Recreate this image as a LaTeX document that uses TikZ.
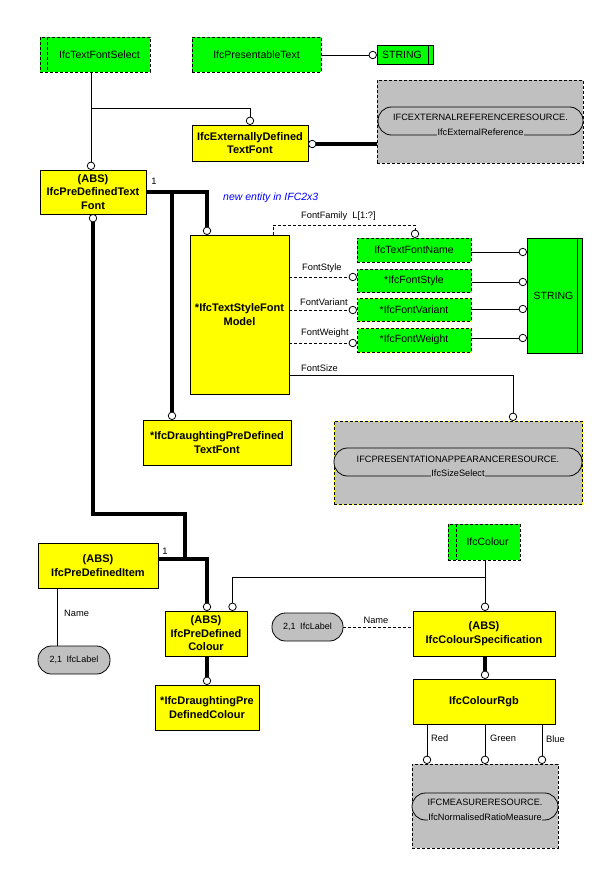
\documentclass[tikz,border=0pt]{standalone}
\usepackage{fontspec}
\setmainfont{Liberation Sans}
\usetikzlibrary{calc}
\pgfdeclarelayer{bg}
\pgfsetlayers{bg,main}
\definecolor{ifcgreen}{RGB}{0,255,0}
\definecolor{ifcyellow}{RGB}{255,255,0}
\definecolor{ifcgray}{RGB}{192,192,192}
\definecolor{ifcblue}{RGB}{0,0,255}
\begin{document}
\begin{tikzpicture}[x=1pt,y=-1pt,
  ent/.style={draw, line width=0.8pt, fill=ifcyellow, inner sep=0pt, align=center,
    font=\fontsize{11}{13.5}\selectfont\bfseries},
  typbase/.style={fill=ifcgreen, inner sep=0pt, align=center, font=\fontsize{10.5}{12}\selectfont},
  typd/.style={typbase, draw, line width=0.8pt, dash pattern=on 3pt off 2pt},
  typs/.style={typbase, draw, line width=0.8pt},
  typy/.style={typbase, draw=ifcyellow, line width=0.8pt,
    postaction={draw=black, line width=0.8pt, dash pattern=on 3pt off 2pt}},
  typg/.style={typbase, draw=ifcgray, line width=0.8pt,
    postaction={draw=black, line width=0.8pt, dash pattern=on 3pt off 2pt}},
  circ/.style={circle, draw, fill=white, line width=0.8pt, minimum size=7.5pt, inner sep=0pt},
  cn/.style={line width=0.8pt},
  thk/.style={line width=3.6pt},
  dsh/.style={line width=0.8pt, dash pattern=on 3pt off 2pt},
  lbl/.style={font=\fontsize{9.3}{10}\selectfont, inner sep=0pt},
  grybox/.style={draw, fill=ifcgray, line width=0.8pt, dash pattern=on 3pt off 2pt},
  grybxy/.style={draw=ifcyellow, fill=ifcgray, line width=0.8pt,
    postaction={draw=black, line width=0.8pt, dash pattern=on 3pt off 2pt}},
  pill/.style={draw, fill=ifcgray, line width=0.8pt, rounded corners=13.5pt, inner sep=0pt},
  pillt/.style={pill, font=\fontsize{9}{10}\selectfont},
  gtxt/.style={font=\fontsize{9.2}{10}\selectfont, inner sep=0.6pt},
]
\begin{pgfonlayer}{bg}
\fill[white] (0,0) rectangle (600,888);
\end{pgfonlayer}
\useasboundingbox (0,0) rectangle (600,888);

% ---- top row
\node[typd, minimum width=110, minimum height=35] (tfs) at (95,54.5) {\hspace*{9pt}IfcTextFontSelect};
\draw[dsh] ($(tfs.north west)+(8,0)$) -- ($(tfs.south west)+(8,0)$);
\node[typd, minimum width=129, minimum height=35] (pt) at (256.5,54.5) {IfcPresentableText};
\node[typs, minimum width=56, minimum height=19] (str1) at (405,54.5) {STRING\hspace*{6pt}};
\draw[cn] ($(str1.north east)+(-5,0)$) -- ($(str1.south east)+(-5,0)$);
\node[circ] (c0) at (372.75,55) {};

% ---- external reference
\node[grybox, minimum width=206, minimum height=83] (ext) at (480,121.5) {};
\node[pill, minimum width=205, minimum height=28] (extp) at (480.5,121) {};
\node[gtxt, anchor=base] (ext1) at (480.5,120.3) {IFCEXTERNALREFERENCERESOURCE.};
\node[gtxt, anchor=base, fill=ifcgray] (ext2) at (480.5,135.5) {IfcExternalReference};

\node[ent, minimum width=116, minimum height=36] (edtf) at (250,143) {IfcExternallyDefined\\TextFont};
\node[circ] (cE1) at (250,120.8) {};
\node[circ] (cE2) at (312.2,144) {};

% ---- predefined text font
\node[ent, minimum width=106, minimum height=44] (pdtf) at (93,192) {(ABS)\\IfcPreDefinedText\\Font};
\node[circ] (cP1) at (91,165.8) {};
\node[circ] (cP2) at (93,218.2) {};
\node[lbl] (one1) at (154,181) {1};
\node[anchor=west, inner sep=0pt, text=ifcblue, font=\fontsize{10.5}{12}\selectfont\itshape] (newent) at (223,197.5) {new entity in IFC2x3};

% ---- text style font model
\node[ent, minimum width=99, minimum height=159] (tsfm) at (239.5,314.5) {*IfcTextStyleFont\\Model};
\node[circ] (cT) at (207,230.8) {};

\node[typd, minimum width=114, minimum height=24] (tfn) at (414,250) {IfcTextFontName};
\node[typg, minimum width=114, minimum height=23] (fst) at (414,280.5) {*IfcFontStyle};
\node[typy, minimum width=114, minimum height=23] (fva) at (414,309.5) {*IfcFontVariant};
\node[typy, minimum width=114, minimum height=24] (fwe) at (414,340) {*IfcFontWeight};
\node[circ] (cF0) at (415,233.8) {};
\node[circ] (cF1) at (352.8,277) {};
\node[circ] (cF2) at (352.8,310) {};
\node[circ] (cF3) at (352.8,343) {};

\node[typs, minimum width=55, minimum height=115] (bstr) at (554.5,295.5) {STRING\hspace*{2pt}};
\draw[cn] ($(bstr.north east)+(-5,0)$) -- ($(bstr.south east)+(-5,0)$);
\node[circ] (cS1) at (522.8,252) {};
\node[circ] (cS2) at (522.8,282) {};
\node[circ] (cS3) at (522.8,309) {};
\node[circ] (cS4) at (522.8,338) {};

\node[lbl, anchor=west] (lff) at (301,216) {FontFamily\ \ L[1:?]};
\node[lbl, anchor=west] (lfs) at (302,268) {FontStyle};
\node[lbl, anchor=west] (lfv) at (300,302.5) {FontVariant};
\node[lbl, anchor=west] (lfw) at (301,333) {FontWeight};
\node[lbl, anchor=west] (lfz) at (301,368) {FontSize};

% ---- presentation appearance resource
\node[grybxy, minimum width=248, minimum height=83] (pres) at (458,462.5) {};
\node[pill, minimum width=248, minimum height=28] (presp) at (458,462) {};
\node[gtxt, anchor=base] (pres1) at (458,462.6) {IFCPRESENTATIONAPPEARANCERESOURCE.};
\node[gtxt, anchor=base, fill=ifcgray] (pres2) at (458,476.5) {IfcSizeSelect};
\node[circ] (cZ) at (513,416.8) {};

\node[ent, minimum width=148, minimum height=45] (dptf) at (217,442.5) {*IfcDraughtingPreDefined\\TextFont};
\node[circ] (cD) at (172,415.8) {};

% ---- predefined item / colour
\node[ent, minimum width=120, minimum height=45] (pdi) at (98,565.5) {(ABS)\\IfcPreDefinedItem};
\node[lbl] (one2) at (165,551) {1};
\node[pillt, minimum width=72, minimum height=28] (lab1) at (74,660) {2,1\enspace IfcLabel};
\node[lbl, anchor=west] (nm1) at (64,613) {Name};

\node[ent, minimum width=82, minimum height=45] (pdc) at (206,633.5) {(ABS)\\IfcPreDefined\\Colour};
\node[circ] (cC1) at (207,606.8) {};
\node[circ] (cC2) at (232.5,606.8) {};
\node[ent, minimum width=104, minimum height=45] (dpdc) at (207,707.5) {*IfcDraughtingPre\\DefinedColour};
\node[circ] (cC3) at (207,680.8) {};

\node[typd, minimum width=72, minimum height=36] (colour) at (484,542) {\hspace*{7pt}IfcColour};
\draw[dsh] ($(colour.north west)+(9,0)$) -- ($(colour.south west)+(9,0)$);

\node[ent, minimum width=142, minimum height=45] (cs) at (484,633.5) {(ABS)\\IfcColourSpecification};
\node[circ] (cCS) at (485,606.8) {};
\node[pillt, minimum width=71, minimum height=28] (lab2) at (307.5,627) {2,1\enspace IfcLabel};
\node[lbl] (nm2) at (376,620) {Name};

\node[ent, minimum width=142, minimum height=45] (rgb) at (484,701.5) {IfcColourRgb};
\node[circ] (cR) at (485,674.8) {};
\node[circ] (cRd) at (427,759.8) {};
\node[circ] (cGr) at (485,759.8) {};
\node[circ] (cBl) at (542,759.8) {};
\node[lbl, anchor=west] (lred) at (431,738) {Red};
\node[lbl, anchor=west] (lgreen) at (490,738) {Green};
\node[lbl, anchor=west] (lblue) at (546,739) {Blue};

\node[grybox, minimum width=146, minimum height=84] (meas) at (485,806) {};
\node[pill, minimum width=146, minimum height=27] (measp) at (485,806.5) {};
\node[gtxt, anchor=base] (meas1) at (485,805.6) {IFCMEASURERESOURCE.};
\node[gtxt, anchor=base, fill=ifcgray] (meas2) at (485,820.6) {IfcNormalisedRatioMeasure};

% ---- connectors
\begin{pgfonlayer}{bg}
\coordinate (j1) at (91,108);
\draw[cn] (tfs.south -| j1) -- (j1) -| (cE1);
\draw[cn] (j1) -- (cP1);
\draw[cn] (pt.east |- c0) -- (c0);
\draw[thk] (cE2) -- (cE2 -| ext.west);

\coordinate (j2) at (172,192);
\draw[thk] (pdtf.east |- j2) -| (cT);
\draw[thk] (j2) -- (cD);
\coordinate (j4) at (185,514);
\coordinate (j5) at (185,559);
\draw[thk] (cP2) |- (j4) -- (j5);
\draw[thk] (pdi.east |- j5) -| (cC1);
\draw[thk] (pdc.south -| cC3) -- (cC3);

\coordinate (ff) at (273,225);
\draw[dsh] (tsfm.north -| ff) -- (ff) -| (cF0);
\draw[dsh] (tsfm.east |- cF1) -- (cF1);
\draw[dsh] (tsfm.east |- cF2) -- (cF2);
\draw[dsh] (tsfm.east |- cF3) -- (cF3);
\draw[cn] (tfn.east |- cS1) -- (cS1);
\draw[cn] (fst.east |- cS2) -- (cS2);
\draw[cn] (fva.east |- cS3) -- (cS3);
\draw[cn] (fwe.east |- cS4) -- (cS4);
\coordinate (fsz) at (513,375);
\draw[cn] (tsfm.east |- fsz) -| (cZ);

\coordinate (nmx) at (57,620);
\draw[cn] (pdi.south -| nmx) -- (lab1.north -| nmx);

\coordinate (jc) at (485,577);
\draw[cn] (colour.south -| jc) -- (cCS);
\draw[cn] (jc) -| (cC2);
\draw[dsh] (lab2.east) -- (lab2.east -| cs.west);
\draw[thk] (cs.south -| cR) -- (cR);
\draw[cn] (rgb.south -| cRd) -- (cRd);
\draw[cn] (rgb.south -| cGr) -- (cGr);
\draw[cn] (rgb.south -| cBl) -- (cBl);
\end{pgfonlayer}
\end{tikzpicture}
\end{document}
